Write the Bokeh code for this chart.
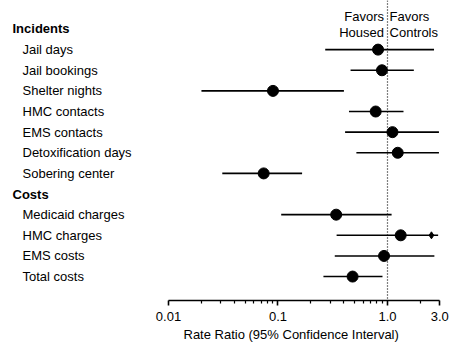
from bokeh.plotting import figure
from bokeh.models import Range1d, Span, Label, FixedTicker, ColumnDataSource, Title
from bokeh.embed import file_html
from bokeh.resources import INLINE

# ---- data ----
section_incidents = "Incidents"
section_costs = "Costs"
incident_names = ["Jail days", "Jail bookings", "Shelter nights", "HMC contacts",
                  "EMS contacts", "Detoxification days", "Sobering center"]
incident_rr = [0.82, 0.89, 0.090, 0.78, 1.11, 1.24, 0.074]
incident_lo = [0.27, 0.46, 0.020, 0.445, 0.41, 0.52, 0.031]
incident_hi = [2.66, 1.74, 0.40, 1.40, 2.95, 2.95, 0.166]

cost_names = ["Medicaid charges", "HMC charges", "EMS costs", "Total costs"]
cost_rr = [0.34, 1.32, 0.93, 0.48]
cost_lo = [0.107, 0.343, 0.33, 0.26]
cost_hi = [1.09, 2.90, 2.68, 0.90]

hmc_charges_mark = [2.52]

tick_values = [0.01, 0.1, 1, 3]
tick_labels = ["0.01", "0.1", "1.0", "3.0"]
minor_values = [0.02, 0.03, 0.04, 0.05, 0.06, 0.07, 0.08, 0.09,
                0.2, 0.3, 0.4, 0.5, 0.6, 0.7, 0.8, 0.9, 2]
x_title = "Rate Ratio (95% Confidence Interval)"
favors_left = ["Favors", "Housed"]
favors_right = ["Favors", "Controls"]

FONT = "Liberation Sans"

# row indices: header 0, incidents 1..7, header 8, costs 9..12
inc_y = [1 + i for i in range(len(incident_names))]
cost_header_y = len(incident_names) + 1
cost_y = [cost_header_y + 1 + i for i in range(len(cost_names))]

names = incident_names + cost_names
rr = incident_rr + cost_rr
lo = incident_lo + cost_lo
hi = incident_hi + cost_hi
ys = inc_y + cost_y

src = ColumnDataSource(dict(name=names, rr=rr, lo=lo, hi=hi, y=ys))

p = figure(width=451, height=350, x_axis_type="log",
           x_range=Range1d(10 ** -3.534, 10 ** 0.5845),
           y_range=Range1d(13.16, -1.381),
           output_backend="svg", toolbar_location=None,
           min_border_left=0, min_border_right=0, min_border_top=0,
           min_border_bottom=50)
p.outline_line_color = None
p.grid.visible = False
p.yaxis.visible = False
p.background_fill_color = "white"
p.border_fill_color = "white"

xa = p.xaxis[0]
xa.bounds = (tick_values[0], tick_values[-1])
xa.ticker = FixedTicker(ticks=tick_values, minor_ticks=minor_values)
xa.major_label_overrides = {v: s for v, s in zip(tick_values, tick_labels)}
xa.axis_line_width = 1.6
xa.axis_line_color = "black"
xa.major_tick_line_color = "black"
xa.minor_tick_line_color = "black"
xa.major_tick_line_width = 1.6
xa.minor_tick_line_width = 1.2
xa.major_tick_in = 0
xa.major_tick_out = 5
xa.minor_tick_in = 0
xa.minor_tick_out = 3
xa.major_label_standoff = 6
xa.major_label_text_font = FONT
xa.major_label_text_font_size = "13px"
xa.major_label_text_color = "black"

# x axis title, placed below the axis and shifted right
p.add_layout(Title(text=x_title, align="left", offset=183, standoff=2,
                   text_font=FONT, text_font_size="13px",
                   text_font_style="normal", text_color="black"), "below")

# reference line at 1
p.add_layout(Span(location=1, dimension="height", line_color="black",
                  line_dash="1 2", line_width=1.2))

# CIs and points
p.segment(x0="lo", x1="hi", y0="y", y1="y", source=src,
          line_color="black", line_width=1.6)
p.scatter(x="rr", y="y", source=src, size=11, color="black")
p.scatter(x=hmc_charges_mark, y=[cost_y[1]], marker="diamond", size=7,
          color="black")

# row labels
def add_label(text, x, y, bold=False):
    p.add_layout(Label(x=x, y=y, x_units="screen", y_units="data", text=text,
                       text_font=FONT, text_font_size="13px",
                       text_font_style="bold" if bold else "normal",
                       text_baseline="middle", text_align="left",
                       text_color="black"))

add_label(section_incidents, 12, 0, bold=True)
for n, y in zip(incident_names, inc_y):
    add_label(n, 22, y)
add_label(section_costs, 12, cost_header_y, bold=True)
for n, y in zip(cost_names, cost_y):
    add_label(n, 22, y)

# favors headers
for t, y in zip(favors_left, [-0.62, 0.18]):
    p.add_layout(Label(x=0.93, y=y, text=t, text_font=FONT, text_font_size="13px",
                       text_baseline="middle", text_align="right", text_color="black"))
for t, y in zip(favors_right, [-0.62, 0.18]):
    p.add_layout(Label(x=1.045, y=y, text=t, text_font=FONT, text_font_size="13px",
                       text_baseline="middle", text_align="left", text_color="black"))

open("out.html", "w").write(file_html(p, INLINE))
